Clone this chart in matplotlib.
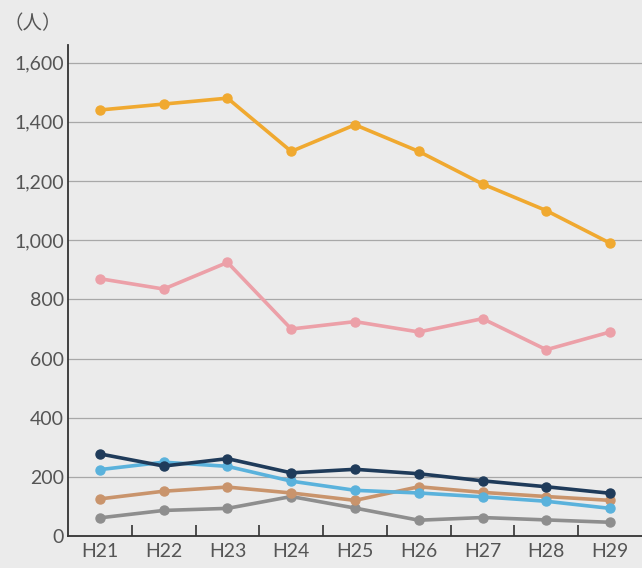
import numpy as np
import matplotlib.pyplot as plt

plt.rcParams['font.family'] = ['Lato', 'Noto Sans CJK JP', 'DejaVu Sans']

years = ['H21', 'H22', 'H23', 'H24', 'H25', 'H26', 'H27', 'H28', 'H29']
orange = [1440, 1460, 1480, 1300, 1390, 1300, 1190, 1100, 990]
pink = [870, 835, 925, 700, 725, 690, 735, 630, 690]
navy = [278, 237, 262, 214, 226, 211, 187, 167, 145]
blue = [225, 250, 236, 186, 155, 146, 133, 118, 94]
tan = [126, 152, 166, 146, 121, 167, 148, 134, 121]
gray = [62, 87, 94, 134, 95, 54, 63, 55, 47]

series = [
    (gray, '#8e8e8e'),
    (tan, '#c9946c'),
    (blue, '#5ab2dc'),
    (navy, '#1f3b5a'),
    (pink, '#eca0a8'),
    (orange, '#f0a930'),
]

bg = '#ebebeb'
fig = plt.figure(figsize=(6.42, 5.68), dpi=100, facecolor=bg)
ax = fig.add_axes([0.106, 0.056, 0.894, 0.865], facecolor=bg)

x = np.arange(len(years))
for vals, col in series:
    ax.plot(x, vals, color=col, lw=2.6, marker='o', ms=6.5, zorder=3)

ax.set_xlim(-0.5, 8.5)
ax.set_ylim(0, 1660)
ax.set_yticks(np.arange(0, 1601, 200))
ax.set_yticklabels([f'{v:,}' for v in range(0, 1601, 200)])
ax.yaxis.grid(True, color='#a8a8a8', lw=0.9)
ax.set_axisbelow(True)

ax.set_xticks(x)
ax.set_xticklabels(years)
ax.set_xticks(np.arange(0.5, 8, 1), minor=True)
ax.tick_params(axis='x', which='major', length=0, labelsize=14, colors='#555555', pad=5)
ax.tick_params(axis='x', which='minor', length=8, direction='in', color='#333333', width=1.2)
ax.tick_params(axis='y', length=0, labelsize=14, colors='#555555', pad=3)

for s in ['top', 'right']:
    ax.spines[s].set_visible(False)
for s in ['left', 'bottom']:
    ax.spines[s].set_color('#333333')
    ax.spines[s].set_linewidth(1.3)

fig.text(0.005, 0.958, '（人）', fontsize=14, color='#555555',
         family=['Noto Sans CJK JP', 'DejaVu Sans'], va='center')

fig.savefig('out.png', dpi=100, facecolor=bg)
